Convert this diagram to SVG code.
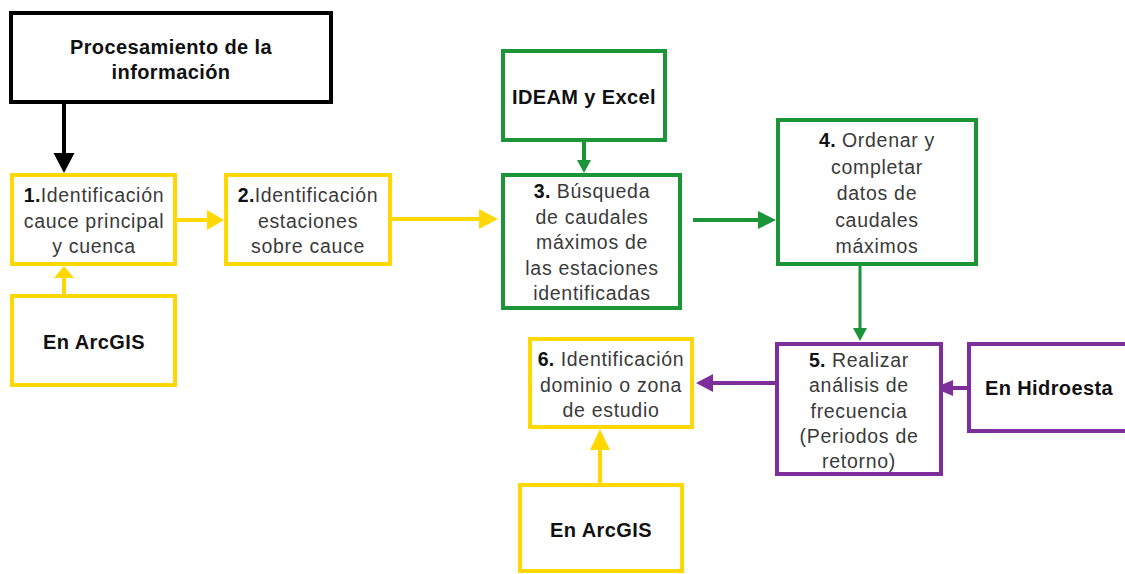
<svg xmlns="http://www.w3.org/2000/svg" width="1125" height="574" viewBox="0 0 1125 574">
<style>
.box{fill:#fff;stroke-width:4}
.k{stroke:#000}
.y{stroke:#FED800}
.g{stroke:#1C9538}
.p{stroke:#7D2E9B}
.ln{fill:none;stroke-width:4}
.hk{fill:#000}
.hy{fill:#FED800}
.hg{fill:#1C9538}
.hp{fill:#7D2E9B}
.t{font-family:"Liberation Sans",Arial,sans-serif;font-size:19.5px;letter-spacing:0.7px;fill:#3a3a3a;text-anchor:middle}
.t tspan.n{font-weight:bold;fill:#111;letter-spacing:0.3px}
.b{font-family:"Liberation Sans",Arial,sans-serif;font-size:20px;font-weight:bold;letter-spacing:0.4px;fill:#111;text-anchor:middle}
</style>
<g id="connectors">
<line class="ln k" x1="64" y1="104" x2="64" y2="155"/>
<polygon class="hk" points="53.5,153 74.5,153 64,173"/>
<line class="ln y" x1="177" y1="220" x2="209" y2="220"/>
<polygon class="hy" points="207,210 207,230 224,220"/>
<line class="ln y" x1="392" y1="219" x2="481" y2="219"/>
<polygon class="hy" points="479,209 479,229 498,219"/>
<line class="ln y" x1="64" y1="294" x2="64" y2="276"/>
<polygon class="hy" points="54,278 74,278 64,266"/>
<line class="ln g" x1="584" y1="142" x2="584" y2="162"/>
<polygon class="hg" points="577,160 591,160 584,173"/>
<line class="ln g" x1="693" y1="220" x2="760" y2="220"/>
<polygon class="hg" points="758,211 758,229 776,220"/>
<line class="ln g" x1="860" y1="264" x2="860" y2="330" style="stroke-width:3"/>
<polygon class="hg" points="853,328 867,328 860,341"/>
<line class="ln p" x1="776" y1="383" x2="711" y2="383"/>
<polygon class="hp" points="713,374 713,392 696,383"/>
<line class="ln p" x1="967" y1="388" x2="951" y2="388"/>
<polygon class="hp" points="953,380 953,396 934,388"/>
<line class="ln y" x1="600" y1="483" x2="600" y2="448"/>
<polygon class="hy" points="590,450 610,450 600,429"/>
</g>
<g id="node-procesamiento">
<rect class="box k" x="11" y="13" width="320" height="89"/>
<text class="b" x="171" y="54">Procesamiento de la</text>
<text class="b" x="171" y="79">información</text>
</g>
<g id="node-1">
<rect class="box y" x="12" y="175" width="163" height="89"/>
<text class="t" x="94" y="202"><tspan class="n">1.</tspan>Identificación</text>
<text class="t" x="94" y="227.5">cauce principal</text>
<text class="t" x="94" y="253">y cuenca</text>
</g>
<g id="node-2">
<rect class="box y" x="226" y="175" width="164" height="89"/>
<text class="t" x="308" y="202"><tspan class="n">2.</tspan>Identificación</text>
<text class="t" x="308" y="227.5">estaciones</text>
<text class="t" x="308" y="253">sobre cauce</text>
</g>
<g id="node-arcgis-1">
<rect class="box y" x="12" y="296" width="163" height="89"/>
<text class="b" x="94" y="349">En ArcGIS</text>
</g>
<g id="node-ideam">
<rect class="box g" x="503" y="51" width="162" height="89"/>
<text class="b" x="584" y="104">IDEAM y Excel</text>
</g>
<g id="node-3">
<rect class="box g" x="503" y="175" width="177" height="133"/>
<text class="t" x="592" y="198"><tspan class="n">3.</tspan> Búsqueda</text>
<text class="t" x="592" y="223.5">de caudales</text>
<text class="t" x="592" y="249">máximos de</text>
<text class="t" x="592" y="274.5">las estaciones</text>
<text class="t" x="592" y="300">identificadas</text>
</g>
<g id="node-4">
<rect class="box g" x="778" y="120" width="198" height="144"/>
<text class="t" x="877" y="147"><tspan class="n">4.</tspan> Ordenar y</text>
<text class="t" x="877" y="173.5">completar</text>
<text class="t" x="877" y="200">datos de</text>
<text class="t" x="877" y="226.5">caudales</text>
<text class="t" x="877" y="253">máximos</text>
</g>
<g id="node-5">
<rect class="box p" x="777" y="344" width="164" height="130"/>
<text class="t" x="859" y="367"><tspan class="n">5.</tspan> Realizar</text>
<text class="t" x="859" y="392">análisis de</text>
<text class="t" x="859" y="417.5">frecuencia</text>
<text class="t" x="859" y="443">(Periodos de</text>
<text class="t" x="859" y="468">retorno)</text>
</g>
<g id="node-hidroesta">
<rect class="box p" x="969" y="344" width="160" height="87"/>
<text class="b" x="1049" y="395">En Hidroesta</text>
</g>
<g id="node-6">
<rect class="box y" x="530" y="339" width="162" height="88"/>
<text class="t" x="611" y="366"><tspan class="n">6.</tspan> Identificación</text>
<text class="t" x="611" y="391.5">dominio o zona</text>
<text class="t" x="611" y="417">de estudio</text>
</g>
<g id="node-arcgis-2">
<rect class="box y" x="520" y="485" width="162" height="86"/>
<text class="b" x="601" y="537">En ArcGIS</text>
</g>
</svg>
